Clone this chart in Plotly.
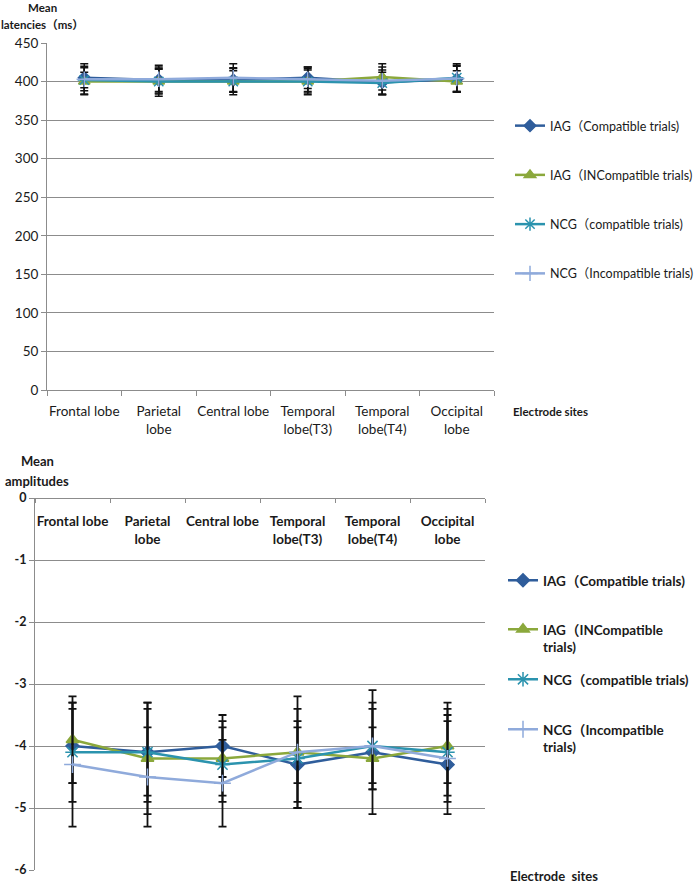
import plotly.graph_objects as go

categories = ["Frontal lobe", "Parietal<br>lobe", "Central lobe", "Temporal<br>lobe(T3)",
              "Temporal<br>lobe(T4)", "Occipital<br>lobe"]
series_names = ["IAG（Compatible trials)", "IAG（INCompatible trials)",
                "NCG（compatible trials)", "NCG（Incompatible trials)"]
series_names_bottom = ["IAG（Compatible trials)", "IAG（INCompatible<br>trials)",
                       "NCG（compatible trials)", "NCG（Incompatible<br>trials)"]

# Top chart: mean latencies (ms)
lat_iag_c = [405, 402, 402, 405, 399, 403]
lat_iag_i = [400, 400, 400, 400, 406, 400]
lat_ncg_c = [402, 400, 400, 400, 398, 405]
lat_ncg_i = [403, 403, 405, 403, 401, 404]
lat_err_iag_c = [13, 15, 16, 14, 16, 17]
lat_err_iag_i = [12, 19, 17, 15, 17, 14]
lat_err_ncg_c = [18, 16, 14, 17, 14, 18]
lat_err_ncg_i = [20, 18, 18, 16, 18, 17]

# Bottom chart: mean amplitudes
amp_iag_c = [-4.0, -4.1, -4.0, -4.3, -4.1, -4.3]
amp_iag_i = [-3.9, -4.2, -4.2, -4.1, -4.2, -4.0]
amp_ncg_c = [-4.1, -4.1, -4.3, -4.2, -4.0, -4.1]
amp_ncg_i = [-4.3, -4.5, -4.6, -4.1, -4.0, -4.2]
amp_err_iag_c = [0.6, 0.7, 0.5, 0.6, 1.0, 0.8]
amp_err_iag_i = [0.7, 0.9, 0.6, 0.9, 0.5, 0.6]
amp_err_ncg_c = [0.8, 0.8, 0.6, 0.8, 0.7, 0.8]
amp_err_ncg_i = [1.0, 0.8, 0.7, 0.5, 0.6, 0.6]

top_ticks = [0, 50, 100, 150, 200, 250, 300, 350, 400, 450]
bottom_ticks = [0, -1, -2, -3, -4, -5, -6]
bottom_tick_labels = ["0", "-1", "-2", "-3", "-4", "-5", "-6"]

colors = ["#2F5D9B", "#8BA83C", "#2B93AE", "#8FAADB"]
symbols = ["diamond", "triangle-up", "asterisk-open", "cross-thin-open"]
msizes = [9, 10, 11, 11]

W, H = 698, 886
FONT = "Lato, 'Noto Sans CJK SC', sans-serif"

fig = go.Figure()

top_vals = [lat_iag_c, lat_iag_i, lat_ncg_c, lat_ncg_i]
top_errs = [lat_err_iag_c, lat_err_iag_i, lat_err_ncg_c, lat_err_ncg_i]
bot_vals = [amp_iag_c, amp_iag_i, amp_ncg_c, amp_ncg_i]
bot_errs = [amp_err_iag_c, amp_err_iag_i, amp_err_ncg_c, amp_err_ncg_i]

for i in range(4):
    fig.add_trace(go.Scatter(
        x=categories, y=top_vals[i], name=series_names[i], mode="lines+markers",
        line=dict(color=colors[i], width=2.5),
        marker=dict(symbol=symbols[i], size=msizes[i], color=colors[i],
                    line=dict(color=colors[i], width=1.5)),
        error_y=dict(type="data", array=top_errs[i], color="#111111", thickness=1.5, width=4),
        xaxis="x", yaxis="y", legend="legend", legendgroup="t%d" % i))

bottom_legend_y = [577, 626, 676, 726]
for i in range(4):
    fig.add_trace(go.Scatter(
        x=categories, y=bot_vals[i], name=series_names_bottom[i], mode="lines+markers",
        line=dict(color=colors[i], width=2.5),
        marker=dict(symbol=symbols[i], size=msizes[i] + 1, color=colors[i],
                    line=dict(color=colors[i], width=1.5)),
        error_y=dict(type="data", array=bot_errs[i], color="#111111", thickness=1.8, width=4),
        xaxis="x2", yaxis="y2", legend="legend%d" % (i + 2)))

def px_x(p):
    return p / W

def px_y(p):
    return 1 - p / H

grid = "#8C8C8C"
layout = dict(
    width=W, height=H, margin=dict(l=0, r=0, t=0, b=0, autoexpand=False),
    paper_bgcolor="white", plot_bgcolor="white",
    font=dict(family=FONT, color="#1a1a1a"),
    xaxis=dict(domain=[px_x(47), px_x(494)], anchor="y", type="category",
               tickson="boundaries", ticks="outside", ticklen=5, tickcolor=grid,
               showline=True, linecolor=grid, linewidth=1, showgrid=False,
               tickangle=0, automargin=False, ticklabelstandoff=9,
               tickfont=dict(size=13.5, family=FONT), range=[-0.5, 5.5]),
    yaxis=dict(domain=[px_y(390), px_y(43)], anchor="x", range=[0, 450],
               tickvals=top_ticks, ticks="outside", ticklen=5, tickcolor=grid,
               showline=True, linecolor=grid, linewidth=1, showgrid=True,
               gridcolor=grid, gridwidth=1, zeroline=False, automargin=False,
               tickfont=dict(size=13.5, family=FONT)),
    xaxis2=dict(domain=[px_x(35), px_x(485)], anchor="free", position=px_y(498),
                side="bottom", type="category", tickson="boundaries", ticks="outside",
                ticklen=4, tickcolor=grid, showline=True, linecolor=grid, linewidth=1,
                showgrid=False, tickangle=0, automargin=False, ticklabelstandoff=11,
                tickfont=dict(size=13.5, family=FONT, weight="bold"),
                range=[-0.5, 5.5]),
    yaxis2=dict(domain=[px_y(870), px_y(498)], anchor="x2", range=[-6, 0],
                tickvals=bottom_ticks, ticktext=bottom_tick_labels,
                ticks="outside", ticklen=5, tickcolor=grid,
                showline=True, linecolor=grid, linewidth=1, showgrid=True,
                gridcolor=grid, gridwidth=1, zeroline=False, automargin=False,
                tickfont=dict(size=12.5, family=FONT, weight="bold")),
    legend=dict(x=px_x(510), y=px_y(111), xanchor="left", yanchor="top",
                font=dict(size=12.5, family=FONT), tracegroupgap=30,
                bgcolor="rgba(0,0,0,0)", itemwidth=30),
    showlegend=True,
)
for i in range(4):
    layout["legend%d" % (i + 2)] = dict(
        x=px_x(503), y=px_y(bottom_legend_y[i] - 12), xanchor="left", yanchor="top",
        font=dict(size=13.5, family=FONT, weight="bold"), valign="top",
        bgcolor="rgba(0,0,0,0)", itemwidth=30)
fig.update_layout(**layout)

ann = [
    dict(x=px_x(42), y=px_y(8), text="<b>Mean</b>", font=dict(size=11.5)),
    dict(x=px_x(42), y=px_y(24), text="<b>latencies（ms）</b>", font=dict(size=11.5)),
    dict(x=px_x(550), y=px_y(412), text="<b>Electrode sites</b>", font=dict(size=11.5)),
    dict(x=px_x(37), y=px_y(461), text="<b>Mean</b>", font=dict(size=13)),
    dict(x=px_x(37), y=px_y(481), text="<b>amplitudes</b>", font=dict(size=13)),
    dict(x=px_x(554), y=px_y(876), text="<b>Electrode  sites</b>", font=dict(size=13)),
]
for a in ann:
    fig.add_annotation(xref="paper", yref="paper", showarrow=False,
                       xanchor="center", yanchor="middle",
                       font=dict(family=FONT, color="#1a1a1a", size=a["font"]["size"]),
                       x=a["x"], y=a["y"], text=a["text"])

fig.write_html("out.html", config={"displayModeBar": False},
               post_script="document.body.style.margin='0';document.body.style.overflow='hidden';")
